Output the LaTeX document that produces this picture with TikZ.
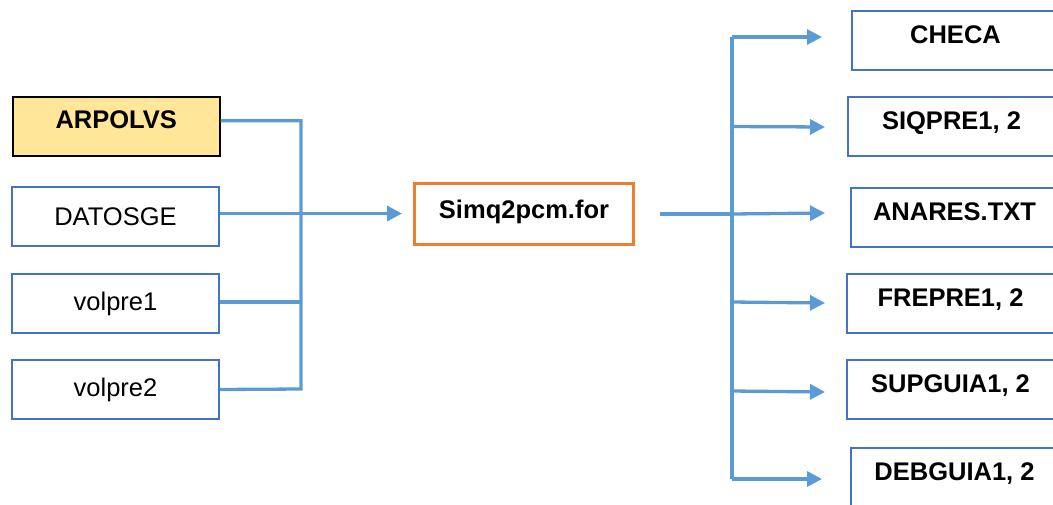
\documentclass[tikz,border=0pt]{standalone}
\usepackage{fontspec}
\setmainfont{Liberation Sans}
\usetikzlibrary{arrows.meta}
\definecolor{lineblue}{HTML}{5B9BD5}
\definecolor{boxblue}{HTML}{4472C4}
\definecolor{boxorange}{HTML}{ED7D31}
\definecolor{boxyellow}{HTML}{FFE699}
\tikzset{
  filebox/.style={draw=boxblue, line width=2pt, minimum width=207pt, minimum height=59pt, anchor=north west, inner sep=0pt, font=\fontsize{25.5}{30}\selectfont},
  outbox/.style={filebox, font=\fontsize{25.5}{30}\selectfont\bfseries, text height=18pt, text depth=13pt},
  conn/.style={draw=lineblue, line width=3.3pt},
  arr/.style={conn, -{Triangle[length=15pt,width=15pt]}}
}
\begin{document}
\begin{tikzpicture}[x=1pt,y=-1pt]
\clip (0,0) rectangle (1053,504);
% left inputs
\node[filebox, draw=black, line width=1.5pt, fill=boxyellow, font=\fontsize{25.5}{30}\selectfont\bfseries, text height=18pt, text depth=14pt] (arp) at (12,96) {ARPOLVS};
\node[filebox] (dat) at (11,186) {DATOSGE};
\node[filebox] (v1) at (11,273) {volpre1};
\node[filebox] (v2) at (11,359) {volpre2};
% center
\node[draw=boxorange, line width=3pt, minimum width=219pt, minimum height=61pt, anchor=north west, inner sep=0pt, font=\fontsize{25.5}{30}\selectfont\bfseries, text height=18pt, text depth=10pt] (sim) at (413,182) {Simq2pcm.for};
% outputs
\node[outbox] (che) at (851,10) {CHECA};
\node[outbox] (siq) at (847,96) {SIQPRE1, 2};
\node[outbox] (ana) at (850,187) {ANARES.TXT};
\node[outbox] (fre) at (846,273) {FREPRE1, 2};
\node[outbox] (sup) at (846,359) {SUPGUIA1, 2};
\node[outbox] (deb) at (850,447) {DEBGUIA1, 2};
% buses
\coordinate (lbus) at (301,389);
\coordinate (rtop) at (732,37);
\coordinate (rbot) at (732,479);
% left connectors
\draw[conn] ([yshift=5.5pt]arp.east) -| (lbus) -- (v2.east);
\draw[conn] ([yshift=1.5pt]v1.east) -- ([yshift=1.5pt]v1.east -| lbus);
\draw[arr, shorten >=11pt] ([yshift=3pt]dat.east) -- ([yshift=3pt]dat.east -| sim.west);
% right connectors
\draw[conn] (rtop) -- (rbot);
\draw[conn, shorten <=25pt] (sim.east) -- (sim.east -| rtop);
\draw[arr] (rtop) -- (822,37);
\draw[arr] (siq.west -| rtop) -- (825,127);
\draw[arr] (sim.east -| rtop) -- (825,213);
\draw[arr] (732,302) -- (825,303);
\draw[arr] (732,391) -- (825,392);
\draw[arr] (rbot) -- (822,479);
\end{tikzpicture}
\end{document}
